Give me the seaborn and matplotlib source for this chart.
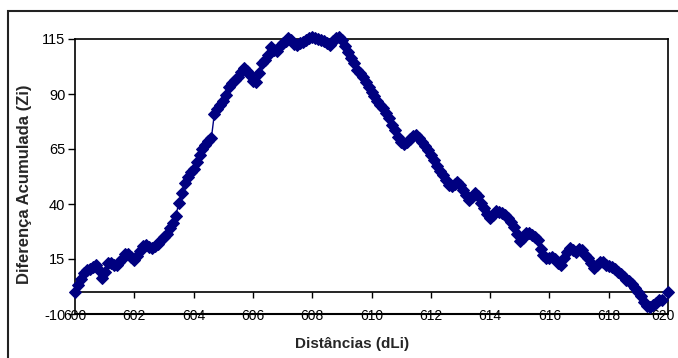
import numpy as np
import pandas as pd
import matplotlib
matplotlib.use("Agg")
from matplotlib import pyplot as plt
from matplotlib.patches import Rectangle
from matplotlib.transforms import ScaledTranslation
import seaborn as sns

# distance grid (dLi) and accumulated difference (Zi)
distances = list(np.round(np.arange(600.0, 619.81, 0.1), 1)) + [620.0]
zi = [
    0, 3, 6, 8.5, 10, 10.5, 11.5, 12.3, 10, 6.5,
    9, 13, 13, 12.5, 12.5, 13.5, 15, 17.5, 17.5, 16,
    14.5, 16.5, 18.5, 21, 21.5, 20.5, 19.8, 21, 22, 23.5,
    24.8, 26.5, 29, 31.5, 34.5, 40.5, 44.8, 49.5, 52.5, 54.5,
    56, 59, 62.5, 65, 67, 68.5, 70, 81, 83, 85,
    87, 89.5, 93, 95, 96.4, 97.9, 100, 101.7, 100.5, 98.5,
    96, 95.5, 99.5, 104, 105.5, 107.5, 111.5, 110, 109.5, 112,
    113, 114, 115.3, 114.5, 112.5, 112.3, 113, 113.5, 114.5, 115.5,
    116, 115.5, 115, 114.5, 114, 113, 112.3, 114, 115.5, 116,
    114.5, 112, 109, 106.5, 104, 101, 99.5, 97.5, 95.5, 93,
    91, 89, 87, 85, 83.5, 81.5, 79, 76, 73.5, 70.5,
    68, 67.5, 68.3, 69.5, 70.8, 71.4, 70, 68.3, 66.5, 64.5,
    62.5, 60, 57.3, 55, 53, 51, 48.5, 48, 49, 50,
    48.5, 46.4, 44, 42, 43, 44.8, 43.5, 40.5, 38, 35.5,
    33.5, 35, 37, 36.5, 36, 35, 33.5, 32, 29.5, 26.5,
    23, 24.5, 27, 27, 26, 25.2, 23.5, 19.5, 17, 15.5,
    15.5, 16, 15, 13, 12.5, 15.5, 18.4, 19.8, 19, 18.3,
    19.5, 19, 17, 15.5, 13, 11, 12.5, 13.8, 13.5, 12.5,
    12, 11.3, 10.3, 9.3, 8.3, 7, 5.5, 4.8, 3.8, 2,
    0.2, -2, -4.5, -6.3, -7, -5.8, -5, -3.8, -3.5,
    0,
]
x_ticks = list(range(600, 621, 2))
y_ticks = [-10, 15, 40, 65, 90, 115]

df = pd.DataFrame({"dist": distances, "zi": zi})

sns.set_style("white")
plt.rcParams["font.family"] = ["Liberation Sans Narrow", "Liberation Sans", "DejaVu Sans"]
plt.rcParams["axes.unicode_minus"] = False

fig = plt.figure(figsize=(6.78, 3.58), dpi=100)
ax = fig.add_axes([75 / 678, 44 / 358, 593 / 678, 275 / 358])

sns.lineplot(data=df, x="dist", y="zi", ax=ax, sort=False, color="#000080",
             marker="D", markersize=6.5, markeredgecolor="#000080", linewidth=1,
             clip_on=False, zorder=3)

ax.set_xlim(600, 620)
ax.set_ylim(-10, 115)
ax.set_xticks(x_ticks)
ax.set_yticks(y_ticks)

# x axis crosses at zero, frame line at -10
ax.spines["bottom"].set_position(("data", 0))
for s in ["bottom", "left", "top", "right"]:
    ax.spines[s].set_color("black")
    ax.spines[s].set_linewidth(1.2)
ax.axhline(-10, color="black", linewidth=1.5, clip_on=False, zorder=1)

ax.tick_params(axis="x", direction="out", length=4, width=1, pad=8.5,
               labelsize=10, colors="black", bottom=True)
ax.tick_params(axis="y", direction="out", length=5, width=1, pad=2,
               labelsize=10.5, colors="black", left=True)

# keep the last x label inside the figure
last = ax.get_xticklabels()[-1]
last.set_transform(last.get_transform() + ScaledTranslation(-5 / 100, 0, fig.dpi_scale_trans))

ax.set_xlabel("Distâncias (dLi)", fontsize=11, fontweight="bold")
ax.set_ylabel("Diferença Acumulada (Zi)", fontsize=12, fontweight="bold",
              family=["Liberation Sans", "DejaVu Sans"])
ax.xaxis.set_label_coords(0.467, -0.085)
ax.yaxis.set_label_coords(-0.072, 0.47)

# outer chart frame
fig.patches.append(Rectangle((8 / 678, -0.1), 1.2, 1.1 - 11 / 358,
                             transform=fig.transFigure, fill=False,
                             edgecolor="#222222", linewidth=1.5))

fig.savefig("out.png", dpi=100)
